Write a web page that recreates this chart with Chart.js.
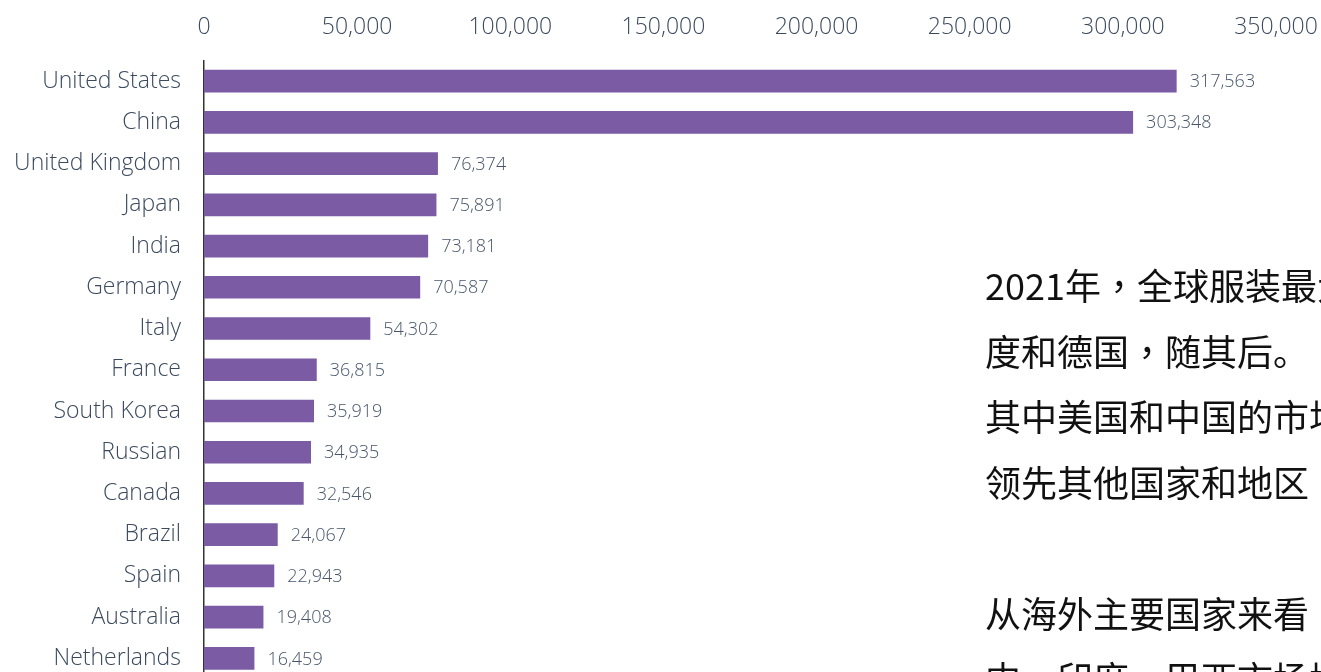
<!DOCTYPE html>
<html>
<head>
<meta charset="utf-8">
<script src="https://cdn.jsdelivr.net/npm/chart.js@4.4.1/dist/chart.umd.min.js"></script>
<style>
  html, body { margin: 0; padding: 0; background: #fff; width: 1321px; height: 672px; overflow: hidden; position: relative; }
  #c { position: absolute; left: 0; top: 0; }
  #note {
    position: absolute; left: 985px; top: 252px; width: 336px; overflow: hidden;
    font-family: "Noto Sans CJK SC", sans-serif; font-size: 36px; line-height: 65.5px;
    color: #111; white-space: pre;
  }
  #note .p { font-family: "Noto Sans CJK TC", sans-serif; }
</style>
</head>
<body>
<canvas id="c" width="1321" height="690"></canvas>
<div id="note">2021年<span class="p">，</span>全球服装最大的市场为美国和中国
度和德国<span class="p">，</span>随其后。
其中美国和中国的市场规模远远
领先其他国家和地区

从海外主要国家来看<span class="p">，</span>
中<span class="p">，</span>印度<span class="p">，</span>巴西市场增长较快</div>
<script>
// Apparel market size by country, 2021
const countries = ["United States", "China", "United Kingdom", "Japan", "India", "Germany", "Italy",
  "France", "South Korea", "Russian", "Canada", "Brazil", "Spain", "Australia", "Netherlands"];
const marketSize = [317563, 303348, 76374, 75891, 73181, 70587, 54302,
  36815, 35919, 34935, 32546, 24067, 22943, 19408, 16459];
const axisTicks = [0, 50000, 100000, 150000, 200000, 250000, 300000, 350000];

const fmt = v => v.toLocaleString('en-US');
const labelColor = '#3b4a5e';

const valueLabels = {
  id: 'valueLabels',
  afterDatasetsDraw(chart) {
    const ctx = chart.ctx;
    const meta = chart.getDatasetMeta(0);
    ctx.save();
    ctx.font = '300 18px "Open Sans", sans-serif';
    ctx.fillStyle = '#47566b';
    ctx.textAlign = 'left';
    ctx.textBaseline = 'middle';
    meta.data.forEach((bar, i) => {
      ctx.fillText(fmt(marketSize[i]), bar.x + 13, bar.y + 1);
    });
    ctx.restore();
  }
};

new Chart(document.getElementById('c'), {
  type: 'bar',
  data: {
    labels: countries,
    datasets: [{
      data: marketSize,
      backgroundColor: '#7a5ba4',
      borderWidth: 0,
      categoryPercentage: 1,
      barPercentage: 0.55
    }]
  },
  options: {
    indexAxis: 'y',
    responsive: false,
    animation: false,
    layout: { padding: { left: 0, right: 45, top: 0, bottom: 11 } },
    plugins: { legend: { display: false }, tooltip: { enabled: false } },
    scales: {
      x: {
        position: 'top',
        min: 0, max: 350000,
        afterBuildTicks(axis) { axis.ticks = axisTicks.map(v => ({ value: v })); },
        afterFit(axis) {
          axis.height = 60.5;
          axis.paddingLeft = 0;
          axis.paddingRight = 0;
        },
        grid: { display: false, drawTicks: false },
        border: { display: false },
        ticks: {
          padding: 19,
          color: labelColor,
          font: { family: '"Open Sans", sans-serif', size: 23, weight: 300 },
          callback: v => fmt(v)
        }
      },
      y: {
        afterFit(axis) {
          axis.width = 204;
          axis.paddingTop = 0;
          axis.paddingBottom = 0;
        },
        grid: { display: false, drawTicks: false },
        border: { display: true, color: '#333', width: 1.5 },
        ticks: {
          padding: 23,
          color: labelColor,
          font: { family: '"Open Sans", sans-serif', size: 23, weight: 300 }
        }
      }
    }
  },
  plugins: [valueLabels]
});
</script>
</body>
</html>
